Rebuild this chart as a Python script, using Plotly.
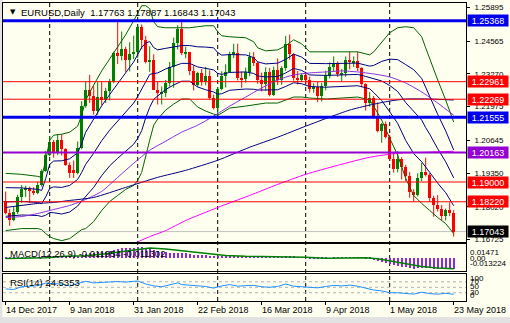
import plotly.graph_objects as go

# ---------------- EURUSD daily bars (index 0 = 14 Dec 2017, 112 = 23 May 2018) ----------------
opens = [1.1826, 1.1777, 1.1749, 1.1782, 1.1839, 1.1870, 1.1878, 1.1864, 1.1858, 1.1889,
         1.1943, 1.2005, 1.2058, 1.2014, 1.2067, 1.2030, 1.1968, 1.1946, 1.1937, 1.2034,
         1.2200, 1.2264, 1.2240, 1.2182, 1.2236, 1.2222, 1.2261, 1.2298, 1.2408, 1.2397,
         1.2427, 1.2382, 1.2404, 1.2414, 1.2510, 1.2462, 1.2372, 1.2380, 1.2265, 1.2250,
         1.2253, 1.2291, 1.2355, 1.2450, 1.2505, 1.2404, 1.2412, 1.2338, 1.2284, 1.2330,
         1.2296, 1.2318, 1.2233, 1.2193, 1.2268, 1.2317, 1.2336, 1.2406, 1.2411, 1.2312,
         1.2306, 1.2336, 1.2392, 1.2370, 1.2302, 1.2287, 1.2336, 1.2242, 1.2341, 1.2301,
         1.2352, 1.2446, 1.2405, 1.2310, 1.2302, 1.2322, 1.2302, 1.2267, 1.2276, 1.2238,
         1.2281, 1.2320, 1.2355, 1.2368, 1.2326, 1.2330, 1.2381, 1.2372, 1.2376, 1.2349,
         1.2286, 1.2210, 1.2232, 1.2162, 1.2103, 1.2128, 1.2079, 1.1992, 1.1951, 1.1990,
         1.1960, 1.1922, 1.1862, 1.1850, 1.1916, 1.1941, 1.1926, 1.1837, 1.1808, 1.1794,
         1.1767, 1.1791, 1.17763]
highs = [1.1862, 1.1793, 1.1801, 1.1850, 1.1888, 1.1885, 1.1882, 1.1880, 1.1902, 1.1950,
         1.2023, 1.2081, 1.2066, 1.2089, 1.2089, 1.2033, 1.1977, 1.1985, 1.2060, 1.2219,
         1.2296, 1.2323, 1.2278, 1.2296, 1.2297, 1.2272, 1.2307, 1.2415, 1.2537, 1.2494,
         1.2434, 1.2452, 1.2478, 1.2518, 1.2522, 1.2477, 1.2436, 1.2404, 1.2297, 1.2277,
         1.2303, 1.2374, 1.2470, 1.2519, 1.2541, 1.2434, 1.2414, 1.2361, 1.2335, 1.2346,
         1.2355, 1.2341, 1.2245, 1.2273, 1.2337, 1.2365, 1.2414, 1.2446, 1.2446, 1.2336,
         1.2352, 1.2412, 1.2413, 1.2376, 1.2332, 1.2353, 1.2350, 1.2355, 1.2388, 1.2357,
         1.2477, 1.2482, 1.2408, 1.2338, 1.2330, 1.2335, 1.2316, 1.2290, 1.2295, 1.2292,
         1.2339, 1.2372, 1.2396, 1.2376, 1.2346, 1.2396, 1.2414, 1.2396, 1.2414, 1.2353,
         1.2290, 1.2255, 1.2240, 1.2214, 1.2133, 1.2139, 1.2086, 1.2012, 1.2021, 1.1998,
         1.1968, 1.1939, 1.1872, 1.1935, 1.1975, 1.1996, 1.1935, 1.1846, 1.1848, 1.1809,
         1.1795, 1.1820, 1.17887]
lows = [1.1772, 1.1727, 1.1745, 1.1774, 1.1818, 1.1841, 1.1817, 1.1848, 1.1852, 1.1882,
        1.1940, 1.2002, 1.1996, 1.2006, 1.2004, 1.1964, 1.1916, 1.1916, 1.1930, 1.2029,
        1.2193, 1.2212, 1.2166, 1.2166, 1.2203, 1.2212, 1.2222, 1.2290, 1.2366, 1.2380,
        1.2335, 1.2337, 1.2385, 1.2389, 1.2424, 1.2368, 1.2335, 1.2264, 1.2206, 1.2206,
        1.2235, 1.2277, 1.2272, 1.2423, 1.2401, 1.2388, 1.2322, 1.2261, 1.2275, 1.2280,
        1.2282, 1.2225, 1.2186, 1.2155, 1.2262, 1.2273, 1.2331, 1.2389, 1.2301, 1.2272,
        1.2292, 1.2318, 1.2358, 1.2288, 1.2258, 1.2260, 1.2238, 1.2240, 1.2283, 1.2284,
        1.2339, 1.2383, 1.2300, 1.2285, 1.2295, 1.2283, 1.2253, 1.2252, 1.2215, 1.2218,
        1.2262, 1.2309, 1.2335, 1.2315, 1.2297, 1.2316, 1.2345, 1.2354, 1.2338, 1.2275,
        1.2182, 1.2197, 1.2155, 1.2096, 1.2055, 1.2072, 1.1983, 1.1937, 1.1938, 1.1910,
        1.1903, 1.1838, 1.1823, 1.1843, 1.1904, 1.1922, 1.1821, 1.1763, 1.1784, 1.1749,
        1.1748, 1.1765, 1.16843]
closes = [1.1777, 1.1749, 1.1782, 1.1839, 1.1872, 1.1878, 1.1864, 1.1858, 1.1889, 1.1943,
          1.2005, 1.2058, 1.2014, 1.2067, 1.2030, 1.1968, 1.1936, 1.1937, 1.2034, 1.2200,
          1.2264, 1.2240, 1.2182, 1.2236, 1.2222, 1.2261, 1.2298, 1.2408, 1.2397, 1.2427,
          1.2382, 1.2404, 1.2414, 1.2510, 1.2462, 1.2372, 1.2380, 1.2265, 1.2250, 1.2253,
          1.2291, 1.2355, 1.2450, 1.2505, 1.2408, 1.2412, 1.2338, 1.2284, 1.2330, 1.2296,
          1.2318, 1.2233, 1.2193, 1.2268, 1.2317, 1.2336, 1.2406, 1.2411, 1.2312, 1.2306,
          1.2336, 1.2392, 1.2370, 1.2302, 1.2287, 1.2336, 1.2242, 1.2341, 1.2301, 1.2352,
          1.2446, 1.2405, 1.2310, 1.2302, 1.2322, 1.2302, 1.2267, 1.2276, 1.2238, 1.2281,
          1.2320, 1.2355, 1.2368, 1.2326, 1.2330, 1.2381, 1.2372, 1.2376, 1.2349, 1.2286,
          1.2210, 1.2232, 1.2162, 1.2103, 1.2128, 1.2079, 1.1992, 1.1951, 1.1990, 1.1960,
          1.1922, 1.1862, 1.1850, 1.1916, 1.1941, 1.1926, 1.1837, 1.1808, 1.1794, 1.1767,
          1.1791, 1.1776, 1.17043]
bars = list(range(len(closes)))

# ---------------- Bollinger envelope (20, 2 dev) sampled by bar ----------------
bb_bars = [0, 4, 8, 9, 10, 11, 12, 14, 16, 18, 19, 20, 22, 24, 26, 28, 30, 32, 33, 34,
           35, 36, 37, 38, 40, 42, 44, 46, 48, 50, 52, 53, 54, 56, 60, 62, 63, 65, 68, 70,
           72, 74, 76, 80, 84, 88, 90, 91, 92, 94, 96, 98, 100, 102, 104, 105, 106, 108, 110, 112]
bb_upper = [1.19342, 1.19303, 1.19223, 1.19184, 1.19858, 1.20650, 1.20849, 1.20888, 1.20968, 1.21205,
            1.21641, 1.22236, 1.22831, 1.23386, 1.23861, 1.24337, 1.24813, 1.25368, 1.25685, 1.25962,
            1.25962, 1.25843, 1.25328, 1.25130, 1.25090, 1.25090, 1.25090, 1.25090, 1.25130, 1.25169,
            1.25169, 1.24932, 1.24773, 1.24733, 1.24694, 1.24535, 1.24297, 1.24178, 1.24218, 1.24377,
            1.24614, 1.24456, 1.24139, 1.24139, 1.24139, 1.24139, 1.24059, 1.24020, 1.24139, 1.24535,
            1.24892, 1.25090, 1.25130, 1.25090, 1.24733, 1.24297, 1.23901, 1.23029, 1.22236, 1.21364]
bb_lower = [1.17083, 1.17162, 1.17162, 1.17122, 1.16964, 1.16845, 1.16766, 1.16686, 1.16766, 1.17004,
            1.17122, 1.17162, 1.17440, 1.17876, 1.18232, 1.18470, 1.18708, 1.18867, 1.19065, 1.19382,
            1.20056, 1.20650, 1.21245, 1.21483, 1.21840, 1.22077, 1.22276, 1.22276, 1.21959, 1.21800,
            1.21681, 1.21641, 1.21721, 1.21919, 1.21998, 1.22038, 1.22077, 1.22117, 1.22117, 1.22236,
            1.22355, 1.22355, 1.22315, 1.22276, 1.22315, 1.22355, 1.22276, 1.22236, 1.21998, 1.21443,
            1.20730, 1.20056, 1.19144, 1.18470, 1.18153, 1.17995, 1.17876, 1.17598, 1.17360, 1.16964]

# ---------------- moving averages sampled by bar ----------------
ma_fast_bars = [0, 4, 8, 12, 16, 20, 24, 28, 32, 36, 40, 44, 48, 52, 56, 60, 64, 68, 72, 76,
                80, 84, 88, 92, 96, 100, 104, 108, 112]
ma_fast = [1.17598, 1.17638, 1.17757, 1.17915, 1.18074, 1.18312, 1.18629, 1.19184, 1.19739, 1.20254,
           1.20611, 1.20968, 1.21245, 1.21602, 1.21998, 1.22355, 1.22712, 1.23029, 1.23227, 1.23306,
           1.23346, 1.23386, 1.23346, 1.23267, 1.23148, 1.22910, 1.22553, 1.22117, 1.21641]
ma_mid_bars = [0, 8, 12, 16, 22, 30, 38, 45, 53, 61, 68, 75, 81, 86, 91, 96, 100, 106, 112]
ma_mid = [1.17995, 1.18153, 1.18193, 1.18272, 1.18391, 1.18787, 1.19184, 1.19461, 1.19858, 1.20373,
          1.20769, 1.21205, 1.21562, 1.21840, 1.22038, 1.22196, 1.22276, 1.22276, 1.22236]
ma_slow_bars = [28, 32, 36, 40, 45, 53, 61, 68, 75, 83, 91, 98, 105, 112]
ma_slow = [1.16300, 1.16568, 1.16845, 1.17083, 1.17479, 1.17995, 1.18470, 1.18906, 1.19303, 1.19659,
           1.19977, 1.20135, 1.20175, 1.20214]

# ---------------- MACD(12,26,9) ----------------
macd_main = [-0.0004, -0.0006, -0.0005, -0.0002, 0.0002, 0.0005, 0.0007, 0.0008, 0.0010, 0.0011,
             0.0012, 0.0018, 0.0020, 0.0024, 0.0025, 0.0022, 0.0018, 0.0016, 0.0021, 0.0035,
             0.0046, 0.0053, 0.0055, 0.0059, 0.0062, 0.0067, 0.0073, 0.0085, 0.0092, 0.0100,
             0.0103, 0.0107, 0.0110, 0.0120, 0.0118, 0.0110, 0.0100, 0.0088, 0.0075, 0.0065,
             0.0058, 0.0054, 0.0055, 0.0056, 0.0052, 0.0048, 0.0042, 0.0036, 0.0033, 0.0030,
             0.0028, 0.0022, 0.0015, 0.0013, 0.0014, 0.0016, 0.0021, 0.0024, 0.0020, 0.0016,
             0.0015, 0.0018, 0.0019, 0.0015, 0.0011, 0.0011, 0.0004, 0.0006, 0.0004, 0.0006,
             0.0014, 0.0016, 0.0011, 0.0008, 0.0005, 0.0002, -0.0003, -0.0005, -0.0010, -0.0009,
             -0.0005, 0.0000, 0.0004, 0.0003, 0.0003, 0.0006, 0.0008, 0.0009, 0.0008, 0.0002,
             -0.0008, -0.0014, -0.0024, -0.0037, -0.0044, -0.0053, -0.0066, -0.0079, -0.0085, -0.0091,
             -0.0097, -0.0105, -0.0111, -0.0110, -0.0106, -0.0103, -0.0108, -0.0113, -0.0117, -0.0120,
             -0.0120, -0.0119, -0.011954]
macd_sig_bars = [0, 5, 10, 15, 20, 25, 30, 33, 36, 40, 43, 46, 50, 55, 60, 65, 70, 75, 80, 85,
                 90, 93, 96, 100, 104, 108, 112]
macd_signal = [-0.0004, -0.0002, 0.0004, 0.0018, 0.0024, 0.0045, 0.0075, 0.0092, 0.0105, 0.0095,
               0.0080, 0.0066, 0.0048, 0.0028, 0.0019, 0.0016, 0.0009, 0.0008, -0.0002, 0.0000,
               0.0004, -0.0008, -0.0028, -0.0060, -0.0088, -0.0104, -0.011302]

# ---------------- RSI(14) ----------------
rsi_bars = [0, 2, 4, 6, 8, 10, 12, 14, 16, 18, 20, 22, 24, 26, 28, 30, 32, 33, 35, 37,
            39, 41, 43, 44, 46, 48, 50, 52, 54, 56, 58, 60, 62, 64, 66, 68, 70, 72, 74, 76,
            78, 80, 82, 84, 86, 88, 90, 92, 94, 96, 98, 100, 102, 104, 106, 108, 110, 112]
rsi_values = [44, 42, 52, 53, 56, 65, 64, 62, 55, 63, 72, 66, 67, 70, 71, 69, 70, 73, 62, 55,
              52, 58, 66, 60, 57, 55, 53, 47, 55, 60, 54, 56, 57, 52, 50, 53, 62, 54, 52, 49,
              48, 53, 57, 55, 58, 54, 46, 40, 37, 30, 30, 27, 25, 32, 27, 25, 28, 24.5353]

# ---------------- horizontal levels and axis labels ----------------
level_prices = [1.25368, 1.22961, 1.22269, 1.21555, 1.20163, 1.19000, 1.18220]
level_colors = ["#0000EE", "#FF0000", "#FF0000", "#0000EE", "#9400D3", "#FF0000", "#FF0000"]
level_widths = [3, 1, 1, 3, 2, 1, 1]
bid_price = 1.17043
price_ticks = [1.25895, 1.24565, 1.23270, 1.21975, 1.20645, 1.19350, 1.18020, 1.16725]
date_ticks = [0, 16, 32, 48, 64, 80, 96, 112]
date_labels = ["14 Dec 2017", "9 Jan 2018", "31 Jan 2018", "22 Feb 2018",
               "16 Mar 2018", "9 Apr 2018", "1 May 2018", "23 May 2018"]
separator_bars = [10.5, 32.5, 52.5, 74.5, 95.5]
rsi_levels = [70, 50, 30]

FONT = "Liberation Sans, Arial, sans-serif"
BG = "#FFFFF0"
UP, DOWN = "#008000", "#FF0000"
NAVY, GREEN = "#000080", "#006400"

fig = go.Figure()

# candle bodies
for want_up, col in ((True, UP), (False, DOWN)):
    xs, base, hgt, wx, wy = [], [], [], [], []
    for i in bars:
        o, h, l, c = opens[i], highs[i], lows[i], closes[i]
        if (c >= o) != want_up:
            continue
        xs.append(i)
        base.append(min(o, c))
        hgt.append(max(abs(c - o), 0.00035))
        wx += [i, i, None]
        wy += [l, h, None]
    fig.add_trace(go.Scatter(x=wx, y=wy, mode="lines", line=dict(color=col, width=1),
                             xaxis="x", yaxis="y", hoverinfo="skip"))
    fig.add_trace(go.Bar(x=xs, y=hgt, base=base, width=0.75, marker=dict(color=col, line=dict(width=0)),
                         xaxis="x", yaxis="y", hoverinfo="skip"))

# Bollinger bands: outer (2 dev) in green, inner (1 dev) and middle in navy
bb_mid = [(u + l) / 2 for u, l in zip(bb_upper, bb_lower)]
bb_half = [(u - l) / 4 for u, l in zip(bb_upper, bb_lower)]
bb_in_up = [m + d for m, d in zip(bb_mid, bb_half)]
bb_in_lo = [m - d for m, d in zip(bb_mid, bb_half)]
for ys, col in ((bb_upper, GREEN), (bb_lower, GREEN), (bb_in_up, NAVY), (bb_mid, NAVY), (bb_in_lo, NAVY)):
    fig.add_trace(go.Scatter(x=bb_bars, y=ys, mode="lines", line=dict(color=col, width=1),
                             xaxis="x", yaxis="y", hoverinfo="skip"))

# moving averages
fig.add_trace(go.Scatter(x=ma_fast_bars, y=ma_fast, mode="lines", line=dict(color="#8A2BE2", width=1, shape="spline", smoothing=0.6),
                         xaxis="x", yaxis="y", hoverinfo="skip"))
fig.add_trace(go.Scatter(x=ma_mid_bars, y=ma_mid, mode="lines", line=dict(color=NAVY, width=1, shape="spline", smoothing=0.6),
                         xaxis="x", yaxis="y", hoverinfo="skip"))
fig.add_trace(go.Scatter(x=ma_slow_bars, y=ma_slow, mode="lines", line=dict(color="#FF00FF", width=1, shape="spline", smoothing=0.6),
                         xaxis="x", yaxis="y", hoverinfo="skip"))

# MACD panel
fig.add_trace(go.Bar(x=bars, y=macd_main, width=0.25, marker=dict(color="#8A2BE2", line=dict(width=0)),
                     xaxis="x2", yaxis="y2", hoverinfo="skip"))
fig.add_trace(go.Scatter(x=macd_sig_bars, y=macd_signal, mode="lines", line=dict(color="#008000", width=1.5),
                         xaxis="x2", yaxis="y2", hoverinfo="skip"))

# RSI panel
fig.add_trace(go.Scatter(x=rsi_bars, y=rsi_values, mode="lines", line=dict(color="#1E90FF", width=1),
                         xaxis="x3", yaxis="y3", hoverinfo="skip"))

shapes = []
# monthly separators across all panels
for s in separator_bars:
    shapes.append(dict(type="line", xref="x", yref="paper", x0=s + 0.5, x1=s + 0.5, y0=0, y1=1,
                       line=dict(color="black", width=1, dash="4px,3px"), layer="below"))
# horizontal price levels
for p, col, w in zip(level_prices, level_colors, level_widths):
    shapes.append(dict(type="line", xref="paper", yref="y", x0=0, x1=1, y0=p, y1=p,
                       line=dict(color=col, width=w), layer="above"))
shapes.append(dict(type="line", xref="paper", yref="y", x0=0, x1=1, y0=bid_price, y1=bid_price,
                   line=dict(color="#C0C0C0", width=1), layer="below"))
# RSI levels
for lv in rsi_levels:
    shapes.append(dict(type="line", xref="paper", yref="y3", x0=0, x1=1, y0=lv, y1=lv,
                       line=dict(color="#B0B0B0", width=1, dash="3px,3px"), layer="below"))
# window frame strips
shapes.append(dict(type="rect", xref="paper", yref="paper", x0=-0.01, x1=1.1, y0=-0.0537, y1=-0.08,
                   fillcolor="#E2E2E2", line=dict(width=0), layer="below"))
shapes.append(dict(type="rect", xref="paper", yref="paper", x0=-0.01, x1=-0.0012, y0=-0.08, y1=1.02,
                   fillcolor="#E2E2E2", line=dict(width=0), layer="below"))

ann = []
# highlighted level tags on the price scale
for p, col in list(zip(level_prices, level_colors)) + [(bid_price, "#000000")]:
    ann.append(dict(xref="paper", x=1, xanchor="left", xshift=1, yref="y", y=p, yanchor="middle",
                    text=f"{p:.5f}", showarrow=False, bgcolor=col, width=40, height=11, borderpad=0,
                    align="center", font=dict(family=FONT, size=9, color="white")))
# date labels, left-aligned at their bars
for b, t in zip(date_ticks, date_labels):
    ann.append(dict(xref="x3", x=b - 0.3, xanchor="left", yref="paper", y=-0.030, yanchor="middle",
                    text=t, showarrow=False, font=dict(family=FONT, size=9, color="black"), borderpad=0))
# chart and indicator captions
ann.append(dict(xref="paper", x=0.012, xanchor="left", yref="paper", y=0.971, yanchor="middle",
                text="▼", showarrow=False, font=dict(family="DejaVu Sans", size=7, color="black"), borderpad=0))
ann.append(dict(xref="paper", x=0.036, xanchor="left", yref="paper", y=0.969, yanchor="middle",
                text="EURUSD,Daily  1.17763 1.17887 1.16843 1.17043", showarrow=False,
                font=dict(family=FONT, size=9.5, color="black"), borderpad=0))
ann.append(dict(xref="paper", x=0.013, xanchor="left", yref="paper", y=0.160, yanchor="middle",
                text="MACD(12,26,9) -0.011954 -0.011302", showarrow=False,
                font=dict(family=FONT, size=9.5, color="black"), borderpad=0))
ann.append(dict(xref="paper", x=0.012, xanchor="left", yref="paper", y=0.063, yanchor="middle",
                text="RSI(14) 24.5353", showarrow=False,
                font=dict(family=FONT, size=9.5, color="black"), borderpad=0))
# sub-window scale captions
for txt, yp in (("0.01471", 0.162), ("0.00", 0.141), ("-0.013224", 0.1265),
                ("100", 0.074), ("70", 0.065), ("50", 0.047), ("30", 0.029), ("0", 0.020)):
    ann.append(dict(xref="paper", x=1, xanchor="left", xshift=3, yref="paper", y=yp, yanchor="middle",
                    text=txt, showarrow=False, font=dict(family=FONT, size=8, color="black"), borderpad=0))

frame = dict(showline=True, mirror=True, linecolor="black", linewidth=1, showgrid=False, zeroline=False)
xr = [-0.675, 115.075]

fig.update_layout(
    width=510, height=323,
    margin=dict(l=3, r=44, t=3, b=22),
    paper_bgcolor=BG, plot_bgcolor=BG,
    showlegend=False, barmode="overlay", bargap=0,
    font=dict(family=FONT, size=8, color="black"),
    xaxis=dict(domain=[0, 1], range=xr, anchor="y", showticklabels=False, ticks="", **frame),
    yaxis=dict(domain=[0.198, 1.0], range=[1.16632, 1.26067], side="right", anchor="x",
               tickvals=price_ticks, ticktext=[f"{v:.5f}" for v in price_ticks],
               ticks="outside", ticklen=3, tickcolor="black", ticklabelstandoff=3,
               tickfont=dict(family=FONT, size=8, color="black"), **frame),
    xaxis2=dict(domain=[0, 1], range=xr, anchor="y2", matches="x", showticklabels=False, ticks="", **frame),
    yaxis2=dict(domain=[0.102, 0.191], range=[-0.013224, 0.01471], side="right", anchor="x2",
                showticklabels=False, ticks="", **frame),
    xaxis3=dict(domain=[0, 1], range=xr, anchor="y3", matches="x", tickvals=date_ticks,
                ticktext=[""] * len(date_ticks), ticks="outside", ticklen=3, tickcolor="black", **frame),
    yaxis3=dict(domain=[0.0, 0.092], range=[0, 100], side="right", anchor="x3",
                showticklabels=False, ticks="", **frame),
    shapes=shapes, annotations=ann,
)

fig.write_html("out.html")
